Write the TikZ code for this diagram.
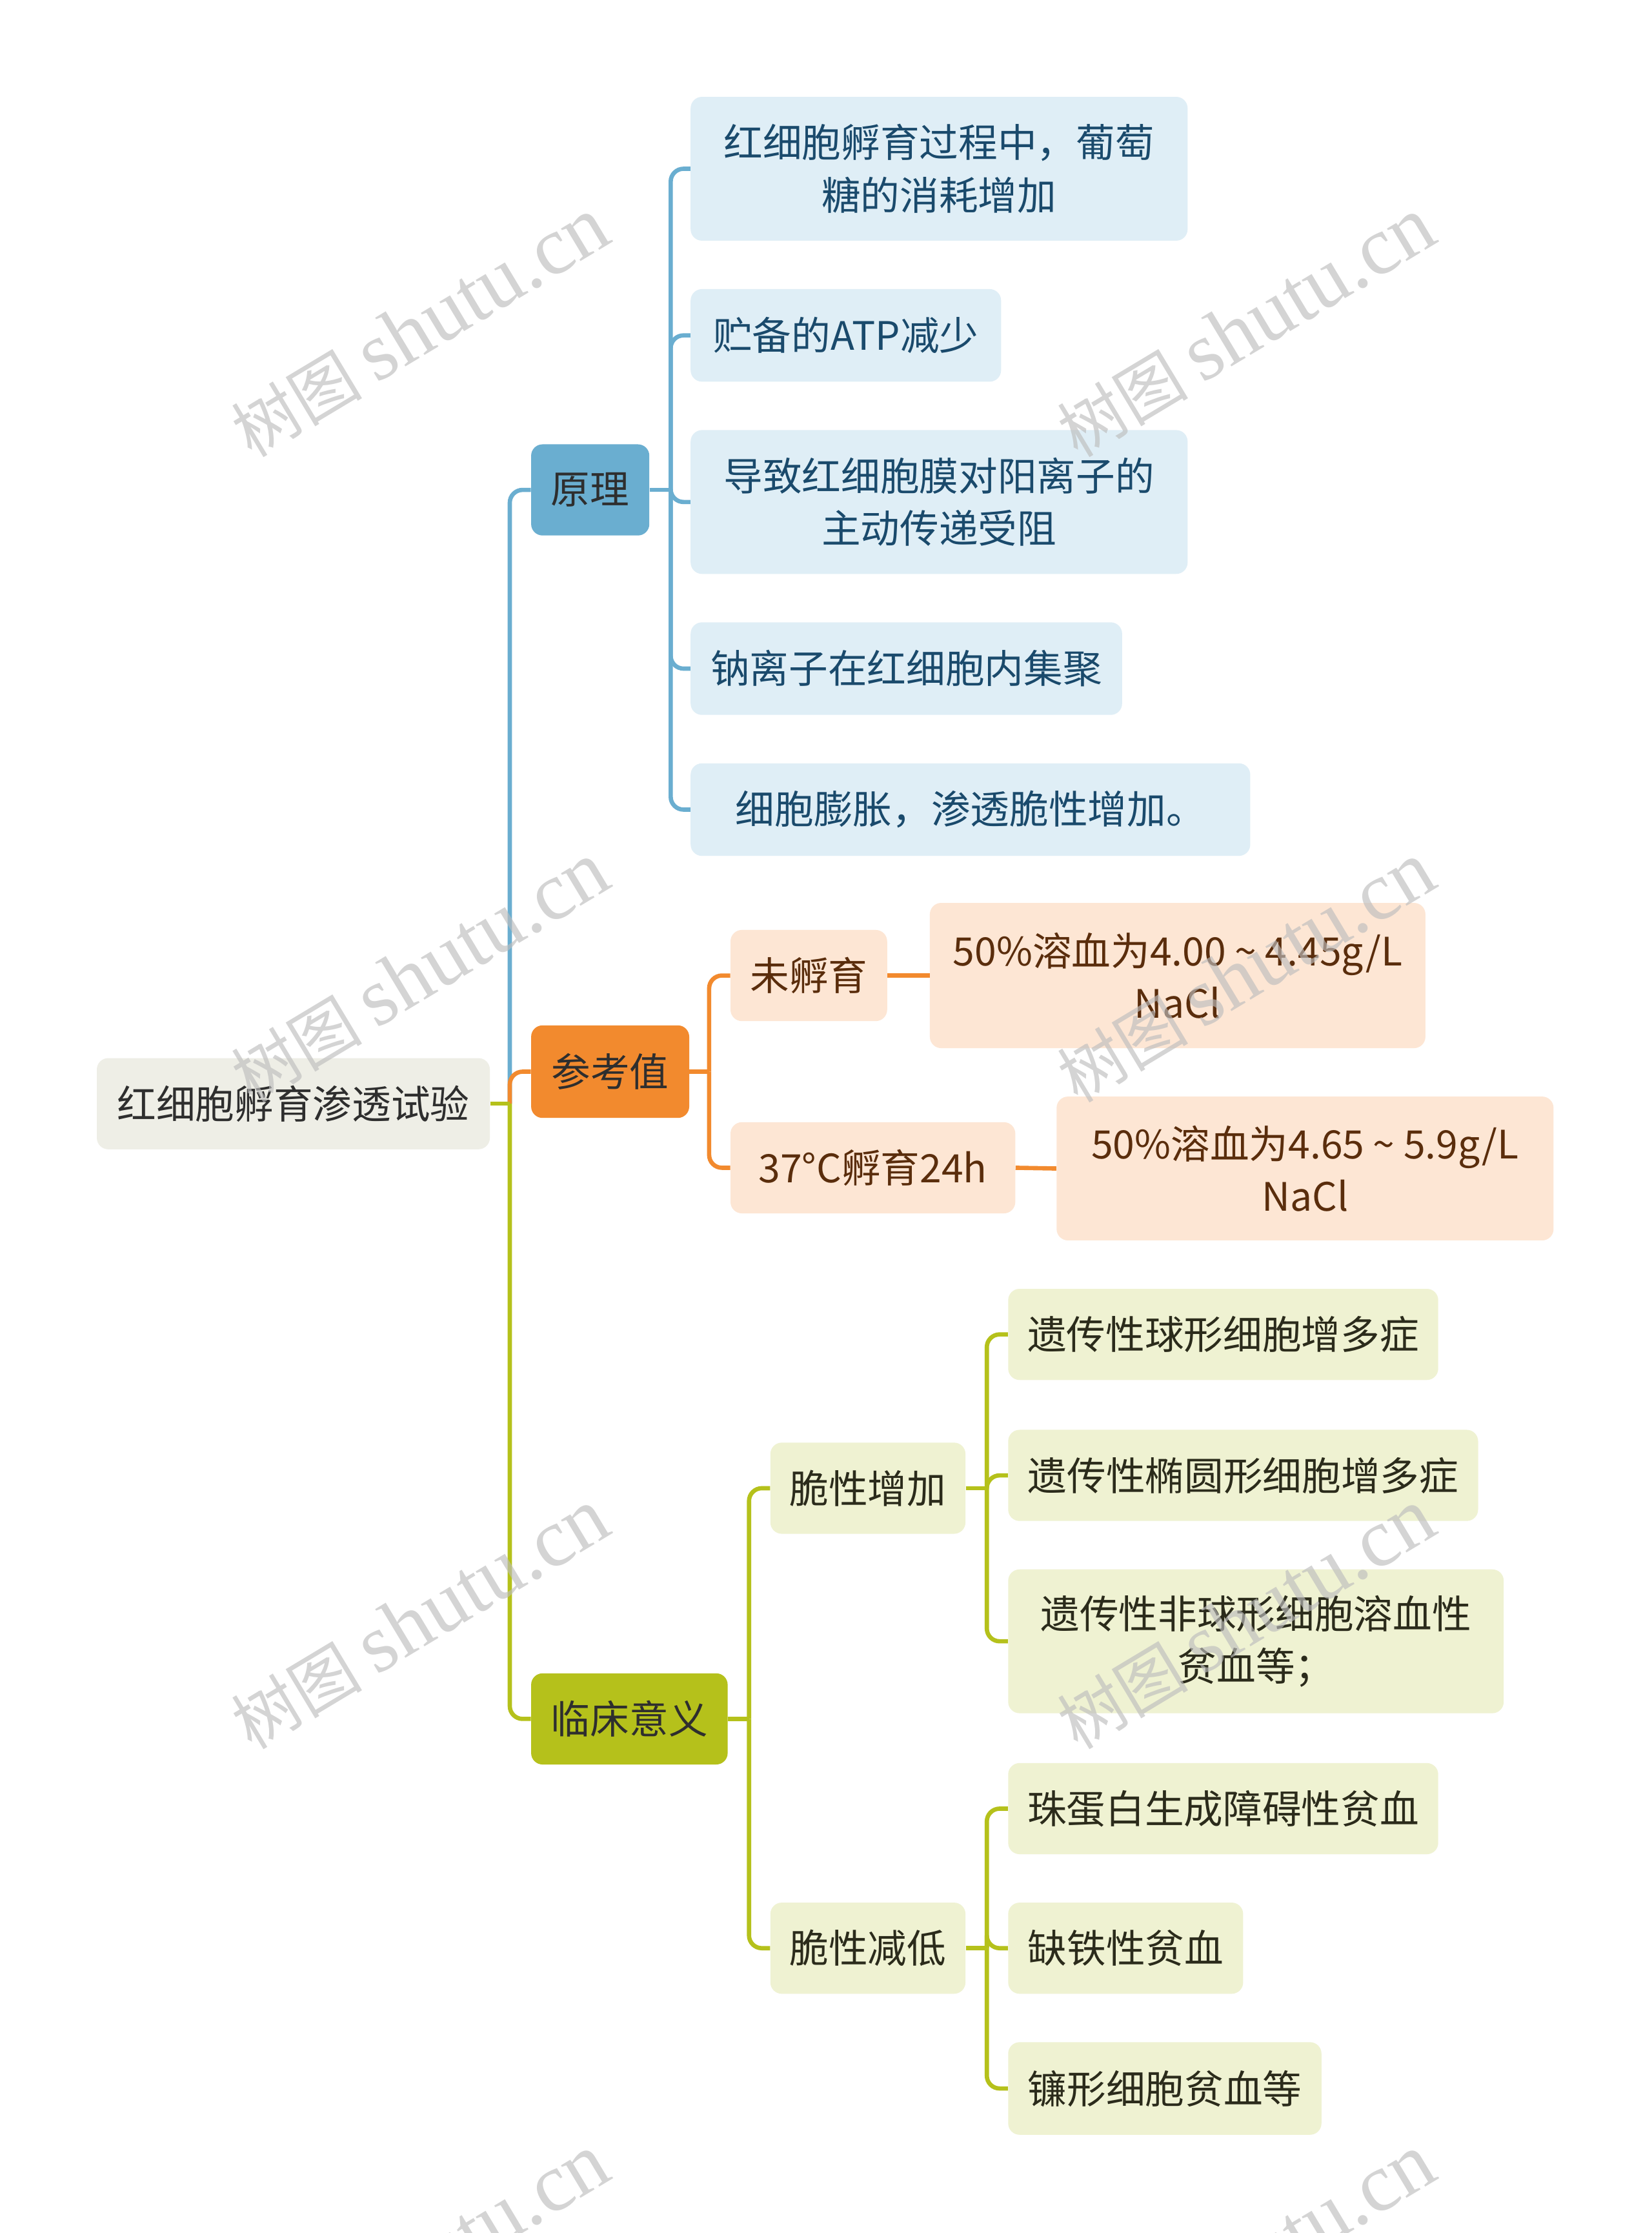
\documentclass[tikz,border=0pt]{standalone}
\usepackage{fontspec}
\setmainfont{Noto Sans CJK SC}
\newfontfamily\wmcjk{Noto Sans CJK SC}
\newfontfamily\wmlat{Liberation Serif}
\definecolor{rootfill}{HTML}{EEEEE6}
\definecolor{blueM}{HTML}{6AAED0}
\definecolor{blueL}{HTML}{DFEEF6}
\definecolor{blueT}{HTML}{1A4A6C}
\definecolor{orM}{HTML}{F28A2E}
\definecolor{orL}{HTML}{FDE6D4}
\definecolor{orT}{HTML}{5A2D0C}
\definecolor{grM}{HTML}{B5C11B}
\definecolor{grL}{HTML}{EFF2D2}
\definecolor{grT}{HTML}{2B2B1B}
\definecolor{darkT}{HTML}{2E2E2E}
\definecolor{wm}{HTML}{BDBDBD}
\tikzset{
  box/.style={rounded corners=8pt, inner sep=0pt, align=center,
    font=\fontsize{27.5}{37}\selectfont},
  rootbox/.style={box, fill=rootfill, text=darkT},
  mainY/.style={box, fill=blueM, text=darkT},
  mainC/.style={box, fill=orM, text=darkT},
  mainL/.style={box, fill=grM, text=darkT},
  leafY/.style={box, fill=blueL, text=blueT},
  leafC/.style={box, fill=orL, text=orT},
  leafL/.style={box, fill=grL, text=grT},
  lnY/.style={draw=blueM, line width=3pt, rounded corners=9pt},
  lnC/.style={draw=orM, line width=3pt, rounded corners=9pt},
  lnL/.style={draw=grM, line width=3pt, rounded corners=9pt},
  wmark/.style={text=wm, opacity=0.65, rotate=31, inner sep=0pt}
}
\begin{document}
\begin{tikzpicture}[x=1pt,y=-1pt]
\useasboundingbox (0,0) rectangle (1160,1568);
\fill[white] (0,0) rectangle (1160,1568);

% nodes
\node[rootbox, minimum width=276pt, minimum height=64pt] (root) at (206,775) {红细胞孵育渗透试验};
\node[mainY, minimum width=83pt, minimum height=64pt] (yuanli) at (414.5,344) {原理};
\node[mainC, minimum width=111pt, minimum height=65pt] (cankao) at (428.5,752.5) {参考值};
\node[mainL, minimum width=138pt, minimum height=64pt] (linch) at (442,1207) {临床意义};

\node[leafY, minimum width=349pt, minimum height=101pt] (b1) at (659.5,118.5) {红细胞孵育过程中，葡萄\\糖的消耗增加};
\node[leafY, minimum width=218pt, minimum height=65pt] (b2) at (594,235.5) {贮备的ATP减少};
\node[leafY, minimum width=349pt, minimum height=101pt] (b3) at (659.5,352.5) {导致红细胞膜对阳离子的\\主动传递受阻};
\node[leafY, minimum width=303pt, minimum height=65pt] (b4) at (636.5,469.5) {钠离子在红细胞内集聚};
\node[leafY, minimum width=393pt, minimum height=65pt] (b5) at (681.5,568.5) {细胞膨胀，渗透脆性增加。};

\node[leafC, minimum width=110pt, minimum height=64pt] (o1) at (568,685) {未孵育};
\node[leafC, minimum width=200pt, minimum height=64pt] (o2) at (613,820) {37°C孵育24h};
\node[leafC, minimum width=348pt, minimum height=102pt] (o3) at (827,685) {50\%溶血为4.00 \textasciitilde{} 4.45g/L\\NaCl};
\node[leafC, minimum width=349pt, minimum height=101pt] (o4) at (916.5,820.5) {50\%溶血为4.65 \textasciitilde{} 5.9g/L\\NaCl};

\node[leafL, minimum width=137pt, minimum height=64pt] (g1) at (609.5,1045) {脆性增加};
\node[leafL, minimum width=137pt, minimum height=64pt] (g2) at (609.5,1368) {脆性减低};
\node[leafL, minimum width=302pt, minimum height=64pt] (g11) at (859,937) {遗传性球形细胞增多症};
\node[leafL, minimum width=330pt, minimum height=64pt] (g12) at (873,1036) {遗传性椭圆形细胞增多症};
\node[leafL, minimum width=348pt, minimum height=101pt] (g13) at (882,1152.5) {遗传性非球形细胞溶血性\\贫血等；};
\node[leafL, minimum width=302pt, minimum height=64pt] (g21) at (859,1270) {珠蛋白生成障碍性贫血};
\node[leafL, minimum width=165pt, minimum height=64pt] (g22) at (790.5,1368) {缺铁性贫血};
\node[leafL, minimum width=220pt, minimum height=65pt] (g23) at (818,1466.5) {镰形细胞贫血等};

% junctions
\coordinate (jR) at (358,775);
\coordinate (jY) at (471,344);
\coordinate (jC) at (498,752.5);
\coordinate (jL) at (526,1207);
\coordinate (jG1) at (693,1045);
\coordinate (jG2) at (693,1368);

% connectors
\draw[lnY] (jR) |- (yuanli.west);
\draw[lnC] (jR) |- (cankao.west);
\draw[lnL] (jR) |- (linch.west);
\draw[lnL] (root.east) -- (jR);

\draw[lnY] (yuanli.east) -- (jY);
\foreach \n in {b1,b2,b3,b4,b5} \draw[lnY] (jY) |- (\n.west);

\draw[lnC] (cankao.east) -- (jC);
\draw[lnC] (jC) |- (o1.west);
\draw[lnC] (jC) |- (o2.west);
\draw[lnC] (o1.east) -- (o3.west);
\draw[lnC] (o2.east) -- (o4.west);

\draw[lnL] (linch.east) -- (jL);
\draw[lnL] (jL) |- (g1.west);
\draw[lnL] (jL) |- (g2.west);
\draw[lnL] (g1.east) -- (jG1);
\foreach \n in {g11,g12,g13} \draw[lnL] (jG1) |- (\n.west);
\draw[lnL] (g2.east) -- (jG2);
\foreach \n in {g21,g22,g23} \draw[lnL] (jG2) |- (\n.west);

% watermarks
\begin{scope}
\clip (0,0) rectangle (1160,1568);
\foreach \cx/\cy [count=\i] in {295/230,875/230,295/683,875/683,295/1137,875/1137,295/1590,875/1590}{
  \node[wmark] (wm\i) at (\cx,\cy) {{\wmcjk\fontsize{46}{46}\selectfont 树图}\hspace{10pt}{\wmlat\fontsize{58}{58}\selectfont shutu.cn}};
}
\end{scope}
\end{tikzpicture}
\end{document}
